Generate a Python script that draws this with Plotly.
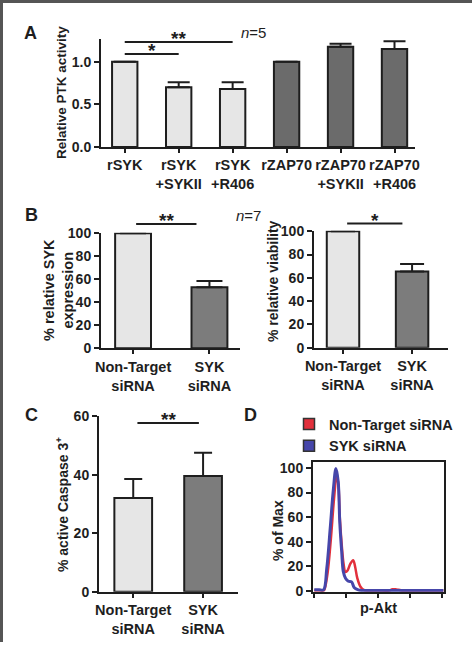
import plotly.graph_objects as go

W, H = 474, 652
FONT = "Liberation Sans, Arial, sans-serif"
INK = "#1e1e1e"
LIGHT = "#e6e6e6"
DARK_A = "#6b6b6b"
DARK_B = "#7c7c7c"

# ---------------- data ----------------
# Panel A
a_ticks = ["rSYK", "rSYK<br>+SYKII", "rSYK<br>+R406", "rZAP70", "rZAP70<br>+SYKII", "rZAP70<br>+R406"]
a_values = [1.00, 0.70, 0.68, 1.00, 1.175, 1.15]
a_errors = [0.0, 0.06, 0.08, 0.0, 0.035, 0.09]
a_yticks = [0.0, 0.5, 1.0]

# Panels B and C
bc_ticks = ["Non-Target<br>siRNA", "SYK<br>siRNA"]
b1_values = [100, 53]
b1_errors = [0, 5.5]
b2_values = [100, 65.5]
b2_errors = [0, 6.5]
c_values = [32, 39.5]
c_errors = [6.5, 8]

# Panel D (histogram overlay, % of max vs p-Akt channel)
d_x_nt = [0.0, 0.15, 0.30, 0.33, 0.42, 0.52, 0.62, 0.70, 0.75, 0.80, 0.86, 0.92, 0.98, 1.05,
          1.13, 1.22, 1.28, 1.35, 1.45, 1.55, 1.70, 2.0, 2.35, 2.45, 2.55, 2.65, 2.75, 3.0, 3.5, 4.05]
d_y_nt = [0.5, 0.5, 0.5, 2, 15, 42, 75, 93, 88, 60, 38, 22, 15.5, 17,
          22, 25, 20, 10.5, 3.5, 1, 0.5, 0.5, 0.5, 1.5, 1.5, 1.0, 0.5, 0.5, 0.5, 0.5]
d_x_syk = [0.0, 0.15, 0.29, 0.39, 0.50, 0.60, 0.68, 0.75, 0.80, 0.86, 0.91, 0.98, 1.07,
           1.17, 1.25, 1.38, 1.50, 2.0, 3.0, 4.05]
d_y_syk = [1, 1, 1, 18, 51, 83, 99.5, 89, 56, 32, 16, 10.5, 8,
           7.5, 3, 1, 0.5, 0.5, 0.5, 0.5]
d_xticks = [0, 1, 2, 3, 4]
d_yticks = [0, 20, 40, 60, 80, 100]

# significance brackets: (panel axis number, x start index, x end index, y value, label)
sig = [
    (1, 0.0, 1.0, 1.09, "*"),
    (1, 0.0, 2.0, 1.23, "**"),
    (2, 0.04, 0.83, 108, "**"),
    (3, 0.06, 0.86, 106.6, "*"),
    (4, 0.06, 0.94, 57.6, "**"),
]


def px_x(p):
    return p / W


def px_y(p):
    return 1 - p / H


fig = go.Figure()


def add_bars(n, values, errors, colors, cap, width):
    fig.add_trace(go.Bar(
        x=list(range(len(values))), y=values,
        marker=dict(color=colors, line=dict(color=INK, width=2)),
        width=width,
        error_y=dict(type="data", symmetric=False, array=errors, arrayminus=[0] * len(values),
                     color=INK, thickness=2, width=cap),
        xaxis=f"x{n}" if n > 1 else "x", yaxis=f"y{n}" if n > 1 else "y",
        showlegend=False, hoverinfo="skip",
    ))


add_bars(1, a_values, a_errors, [LIGHT] * 3 + [DARK_A] * 3, 11, 0.47)
add_bars(2, b1_values, b1_errors, [LIGHT, DARK_B], 13, 0.47)
add_bars(3, b2_values, b2_errors, [LIGHT, DARK_B], 12, 0.47)
add_bars(4, c_values, c_errors, [LIGHT, DARK_B], 9, 0.54)

RED = "#e2303c"
BLUE = "#4646aa"
fig.add_trace(go.Scatter(x=d_x_nt, y=d_y_nt, mode="lines", line=dict(color=RED, width=2.5, shape="spline"),
                         xaxis="x5", yaxis="y5", showlegend=False, hoverinfo="skip"))
fig.add_trace(go.Scatter(x=d_x_syk, y=d_y_syk, mode="lines", line=dict(color=BLUE, width=3, shape="spline"),
                         xaxis="x5", yaxis="y5", showlegend=False, hoverinfo="skip"))
# legend swatches
for name, col in [("Non-Target siRNA", RED), ("SYK siRNA", BLUE)]:
    fig.add_trace(go.Scatter(x=[None], y=[None], mode="markers", name=name,
                             marker=dict(symbol="square", size=11, color=col, line=dict(color="#333", width=1.5)),
                             xaxis="x5", yaxis="y5", showlegend=True))

tickfont = dict(family=FONT, size=14, color=INK, weight="bold")
xtickfont = dict(family=FONT, size=14.5, color=INK, weight="bold")

yranges = {1: [0, 1.266], 2: [0, 100.5], 3: [0, 100.5], 4: [0, 60.2], 5: [-0.5, 105]}

layout = dict(
    template="none",
    width=W, height=H, margin=dict(l=0, r=0, t=0, b=0, autoexpand=False),
    paper_bgcolor="white", plot_bgcolor="white",
    font=dict(family=FONT, color=INK),
    barmode="overlay",
    legend=dict(x=px_x(289), y=px_y(408), xanchor="left", yanchor="top",
                font=dict(family=FONT, size=14.5, color=INK, weight="bold"),
                bgcolor="rgba(0,0,0,0)", tracegroupgap=0, itemwidth=30),
)


def bar_axes(n, xdom, ydom, xrange, yticks, ytickformat, ticks_x):
    sx = "" if n == 1 else str(n)
    layout[f"xaxis{sx}"] = dict(
        domain=[px_x(xdom[0]), px_x(xdom[1])], range=xrange, anchor=f"y{sx}",
        showline=True, linecolor=INK, linewidth=2, ticks="outside", ticklen=4, tickwidth=2,
        tickcolor=INK, tickvals=list(range(len(ticks_x))), ticktext=ticks_x, tickangle=0,
        tickfont=xtickfont, showgrid=False, zeroline=False, fixedrange=True, automargin=False,
    )
    layout[f"yaxis{sx}"] = dict(
        domain=[px_y(ydom[1]), px_y(ydom[0])], range=yranges[n], anchor=f"x{sx}",
        showline=True, linecolor=INK, linewidth=2, ticks="outside", ticklen=5, tickwidth=2,
        tickcolor=INK, tickvals=yticks, tickformat=ytickformat, tickfont=tickfont,
        showgrid=False, zeroline=False, fixedrange=True, automargin=False,
    )


bar_axes(1, (101, 415), (39, 147), [-0.44, 5.38], a_yticks, ".1f", a_ticks)
bar_axes(2, (101, 240), (232.7, 348.3), [-0.42, 1.40], [0, 20, 40, 60, 80, 100], None, bc_ticks)
bar_axes(3, (314, 448), (230.7, 347.7), [-0.42, 1.52], [0, 20, 40, 60, 80, 100], None, bc_ticks)
bar_axes(4, (99, 238), (415.5, 591.7), [-0.49, 1.5], [0, 20, 40, 60], None, bc_ticks)

layout["xaxis5"] = dict(
    domain=[px_x(313), px_x(444)], range=[-0.04, 4.07], anchor="y5",
    showline=True, mirror=True, linecolor=INK, linewidth=2, ticks="outside", ticklen=4, tickwidth=2,
    tickcolor=INK, tickvals=d_xticks, showticklabels=False, showgrid=False, zeroline=False,
    title=dict(text="p-Akt", font=dict(family=FONT, size=14.5, color=INK, weight="bold"), standoff=6),
    fixedrange=True, automargin=False,
)
layout["yaxis5"] = dict(
    domain=[px_y(591.7), px_y(461.7)], range=yranges[5], anchor="x5",
    showline=True, mirror=True, linecolor=INK, linewidth=2, ticks="outside", ticklen=5, tickwidth=2,
    tickcolor=INK, tickvals=d_yticks, tickfont=tickfont, showgrid=False, zeroline=False,
    fixedrange=True, automargin=False,
)

fig.update_layout(**layout)

# y-axis titles (rotated text placed beside each panel)
for txt, px, py, size in [("Relative PTK activity", 62, 93, 13.5),
                          ("% relative SYK<br>expression", 58, 290, 14.5),
                          ("% relative viability", 273, 281, 14),
                          ("% active Caspase 3<sup>+</sup>", 62, 505, 14),
                          ("% of Max", 278, 531, 14)]:
    fig.add_annotation(xref="paper", yref="paper", x=px_x(px), y=px_y(py), text=txt, textangle=-90,
                       showarrow=False, xanchor="center", yanchor="middle",
                       font=dict(family=FONT, size=size, color=INK, weight="bold"))

# significance brackets and stars
for n, x0, x1, yv, label in sig:
    sx = "" if n == 1 else str(n)
    frac = (yv - yranges[n][0]) / (yranges[n][1] - yranges[n][0])
    fig.add_shape(type="line", xref=f"x{sx}", yref=f"y{sx} domain", x0=x0, x1=x1, y0=frac, y1=frac,
                  line=dict(color=INK, width=2))
    fig.add_annotation(xref=f"x{sx}", yref=f"y{sx} domain", x=(x0 + x1) / 2, y=frac, text=label,
                       showarrow=False, yanchor="bottom", yshift=-9,
                       font=dict(family=FONT, size=19, color=INK, weight="bold"))

# panel letters and n labels
for letter, px, py in [("A", 30, 33), ("B", 32, 215), ("C", 32, 415), ("D", 250, 415)]:
    fig.add_annotation(xref="paper", yref="paper", x=px_x(px), y=px_y(py), text=letter, showarrow=False,
                       xanchor="center", yanchor="middle",
                       font=dict(family=FONT, size=18, color=INK, weight="bold"))
for txt, px, py in [("<i>n</i>=5", 253, 32), ("<i>n</i>=7", 248.5, 215)]:
    fig.add_annotation(xref="paper", yref="paper", x=px_x(px), y=px_y(py), text=txt, showarrow=False,
                       xanchor="center", yanchor="middle", font=dict(family=FONT, size=15, color=INK))

# figure frame (left and top edges)
fig.add_shape(type="rect", xref="paper", yref="paper", x0=0, x1=px_x(3), y0=px_y(642), y1=1,
              fillcolor="#555555", line=dict(width=0), layer="above")
fig.add_shape(type="rect", xref="paper", yref="paper", x0=0, x1=px_x(472), y0=px_y(3), y1=1,
              fillcolor="#555555", line=dict(width=0), layer="above")

fig.write_html("out.html", config={"displayModeBar": False},
               post_script="document.body.style.margin='0';document.body.style.overflow='hidden';")
